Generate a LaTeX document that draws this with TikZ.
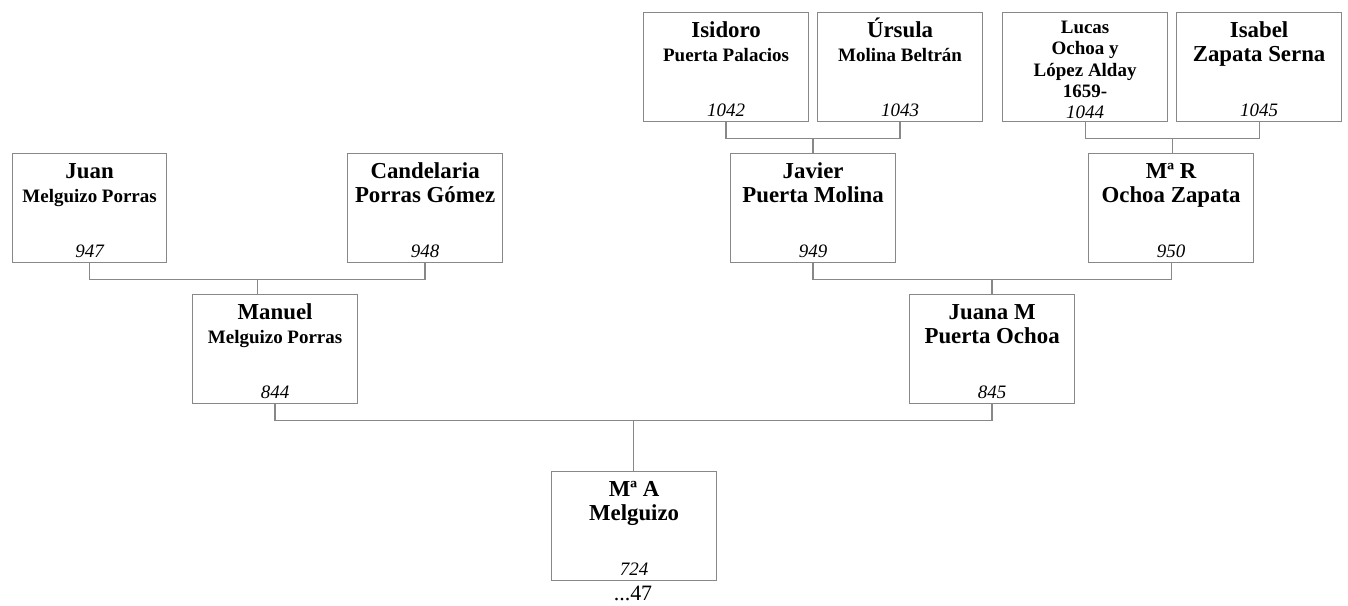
\documentclass[tikz,border=0pt]{standalone}
\usepackage{fontspec}
\setmainfont{Liberation Serif}
\usetikzlibrary{positioning,calc}

\definecolor{boxgray}{RGB}{136,136,136}

\newcommand{\toplift}{14pt}
\newcommand{\bigname}{\bfseries\fontsize{13}{13.6}\selectfont}
\newcommand{\smallname}{\bfseries\fontsize{10.8}{13.6}\selectfont}
\newcommand{\pcard}[3][3.3cm]{\parbox[c][2.18cm][t]{#1}{\centering\rule{0pt}{\toplift}#2\par\vfill
  \fontsize{10.8}{12}\selectfont\mdseries\itshape\rule[-2.8pt]{0pt}{3pt}#3\par}}

\tikzset{
  person/.style={draw=boxgray,line width=0.7pt,inner sep=0pt,anchor=north west,fill=white},
  link/.style={draw=boxgray,line width=0.7pt}
}

\begin{document}
\begin{tikzpicture}[x=0.02cm,y=-0.02cm]
    \useasboundingbox (0,0) rectangle (1348,605);

    % great-grandparents
    \node[person] (isidoro) at (643,12) {\pcard{\bigname Isidoro\\\smallname Puerta Palacios}{1042}};
    \node[person] (ursula) at (817,12) {\pcard{\bigname Úrsula\\\smallname Molina Beltrán}{1043}};
    \node[person] (lucas) at (1002,12) {\renewcommand{\toplift}{11.9pt}\pcard{\bfseries\fontsize{10.8}{12.1}\selectfont Lucas\\Ochoa y\\López Alday\\1659-}{1044}};
    \node[person] (isabel) at (1176,12) {\pcard{\bigname Isabel\\Zapata Serna}{1045}};

    % grandparents
    \node[person] (juan) at (12,153) {\pcard[3.08cm]{\bigname Juan\\\smallname Melguizo Porras}{947}};
    \node[person] (candelaria) at (347,153) {\pcard[3.1cm]{\bigname Candelaria\\Porras Gómez}{948}};
    \node[person] (javier) at (730,153) {\pcard{\bigname Javier\\Puerta Molina}{949}};
    \node[person] (mariar) at (1088,153) {\pcard{\bigname Mª R\\Ochoa Zapata}{950}};

    % parents
    \node[person] (manuel) at (192,294) {\pcard{\bigname Manuel\\\smallname Melguizo Porras}{844}};
    \node[person] (juana) at (909,294) {\pcard{\bigname Juana M\\Puerta Ochoa}{845}};

    % root
    \node[person] (mariaa) at (551,471) {\pcard{\bigname Mª A\\Melguizo}{724}};
    \node[anchor=base,font=\fontsize{12.5}{14}\selectfont] (gen) at (633,600) {...47};

    % family joints
    \coordinate (fjavier) at ($(isidoro.south)!0.5!(ursula.south)+(0,16)$);
    \coordinate (fmariar) at ($(lucas.south)!0.5!(isabel.south)+(0,16)$);
    \coordinate (fmanuel) at ($(juan.south)!0.5!(candelaria.south)+(0,16)$);
    \coordinate (fjuana) at ($(javier.south)!0.5!(mariar.south)+(0,16)$);
    \coordinate (fmariaa) at ($(manuel.south)!0.5!(juana.south)+(0,16)$);

    \draw[link] (isidoro.south) |- (fjavier) -| (ursula.south);
    \draw[link] (fjavier) -- (fjavier |- javier.north);
    \draw[link] (lucas.south) |- (fmariar) -| (isabel.south);
    \draw[link] (fmariar) -- (fmariar |- mariar.north);
    \draw[link] (juan.south) |- (fmanuel) -| (candelaria.south);
    \draw[link] (fmanuel) -- (fmanuel |- manuel.north);
    \draw[link] (javier.south) |- (fjuana) -| (mariar.south);
    \draw[link] (fjuana) -- (fjuana |- juana.north);
    \draw[link] (manuel.south) |- (fmariaa) -| (juana.south);
    \draw[link] (fmariaa) -- (fmariaa |- mariaa.north);
\end{tikzpicture}
\end{document}
